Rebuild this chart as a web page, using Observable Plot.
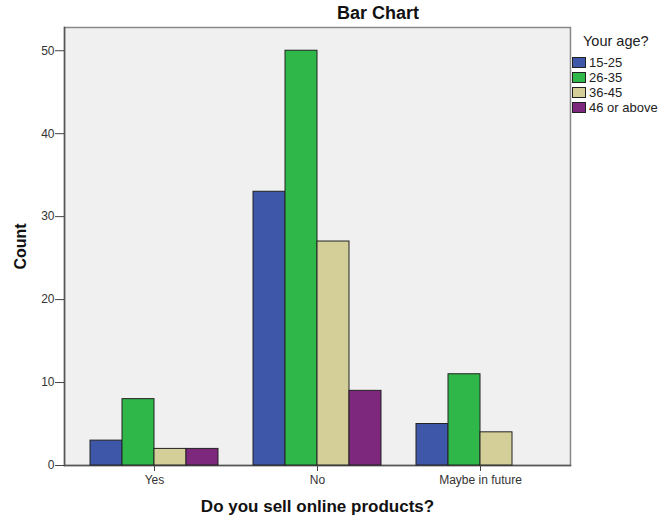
<!DOCTYPE html>
<html>
<head>
<meta charset="utf-8">
<script src="https://cdn.jsdelivr.net/npm/d3@7"></script>
<script src="https://cdn.jsdelivr.net/npm/@observablehq/plot@0.6"></script>
<style>
  body { margin: 0; background: white; font-family: "Liberation Sans", Arial, sans-serif; }
  #wrap { position: relative; width: 661px; height: 518px; overflow: hidden; }
  #title { position: absolute; top: 3px; left: 278px; width: 200px; text-align: center; font-weight: bold; font-size: 18px; color: #111; }
  #chart { position: absolute; top: 22px; left: 0; }
  #legend { position: absolute; left: 572px; top: 33px; color: #222; }
  #legend .lt { font-size: 14.5px; margin-left: 11px; margin-bottom: 6px; white-space: nowrap; }
  #legend .item { display: flex; align-items: center; height: 15px; font-size: 13px; white-space: nowrap; }
  #legend .sw { width: 14px; height: 11px; border: 1px solid #222; margin-right: 3px; box-sizing: border-box; }
  svg [aria-label="y-axis label"] text, svg [aria-label="y-axis label"] { font-weight: bold; font-size: 16px; fill: #111; }
  svg [aria-label="fx-axis label"] text, svg [aria-label="fx-axis label"] { font-weight: bold; font-size: 17px; fill: #111; }
</style>
</head>
<body>
<div id="wrap">
  <div id="title">Bar Chart</div>
  <div id="chart"></div>
  <div id="legend"></div>
</div>
<script>
const answers = ["Yes", "No", "Maybe in future"];
const ages = ["15-25", "26-35", "36-45", "46 or above"];
const countsYes = [3, 8, 2, 2];
const countsNo = [33, 50, 27, 9];
const countsMaybe = [5, 11, 4, 0];
const ageColors = ["#3f57a9", "#2fb74a", "#d4cf98", "#7d287c"];
const yTicks = [0, 10, 20, 30, 40, 50];
const legendTitle = "Your age?";
const xTitle = "Do you sell online products?";
const yTitle = "Count";

const seriesByAnswer = [countsYes, countsNo, countsMaybe];
const data = [];
answers.forEach((a, i) => ages.forEach((g, j) => {
  if (seriesByAnswer[i][j] > 0) data.push({answer: a, age: g, count: seriesByAnswer[i][j]});
}));

const W = 661, H = 496, ML = 64, MR = 90, MT = 5, MB = 53;
const padIn = 0.2, padOut = 0.153;
// distance from the outer facets' edges back to the plot frame's edges
const fxStep = (W - ML - MR) / (answers.length - padIn + 2 * padOut);
const outerGap = padOut * fxStep;

const plot = Plot.plot({
  width: W,
  height: H,
  marginLeft: ML,
  marginRight: MR,
  marginTop: MT,
  marginBottom: MB,
  style: {fontFamily: "'Liberation Sans', Arial, sans-serif", fontSize: "12px", color: "#333", background: "white", overflow: "visible"},
  fx: {domain: answers, paddingInner: padIn, paddingOuter: padOut},
  x: {domain: ages, padding: 0, axis: null},
  y: {domain: [0, 52.8]},
  color: {domain: ages, range: ageColors},
  marks: [
    Plot.frame({facet: "super", fill: "#f0f0f0", stroke: "#888", strokeWidth: 1.5, insetLeft: -outerGap, insetRight: -outerGap}),
    Plot.frame({facet: "super", anchor: "left", stroke: "#555", strokeWidth: 1.5, insetLeft: -outerGap, insetRight: -outerGap}),
    Plot.frame({facet: "super", anchor: "bottom", stroke: "#555", strokeWidth: 1.5, insetLeft: -outerGap, insetRight: -outerGap}),
    Plot.barY(data, {fx: "answer", x: "age", y: "count", fill: "age", stroke: "#222", strokeWidth: 1, inset: 0}),
    Plot.axisY({ticks: yTicks, tickSize: 9, tickPadding: 1, stroke: "#444", dx: -outerGap, label: yTitle, labelAnchor: "center", labelArrow: "none", labelOffset: 75}),
    Plot.axisFx({anchor: "bottom", tickSize: 6, tickPadding: 4, stroke: "#444", label: xTitle, labelAnchor: "center", labelArrow: "none", labelOffset: 46})
  ]
});
document.getElementById("chart").appendChild(plot);

const leg = document.getElementById("legend");
const lt = document.createElement("div");
lt.className = "lt";
lt.textContent = legendTitle;
leg.appendChild(lt);
const cs = plot.scale("color");
ages.forEach((g, j) => {
  const it = document.createElement("div");
  it.className = "item";
  const sw = document.createElement("div");
  sw.className = "sw";
  sw.style.background = cs.range[j];
  const tx = document.createElement("span");
  tx.textContent = g;
  it.appendChild(sw);
  it.appendChild(tx);
  leg.appendChild(it);
});
</script>
</body>
</html>
